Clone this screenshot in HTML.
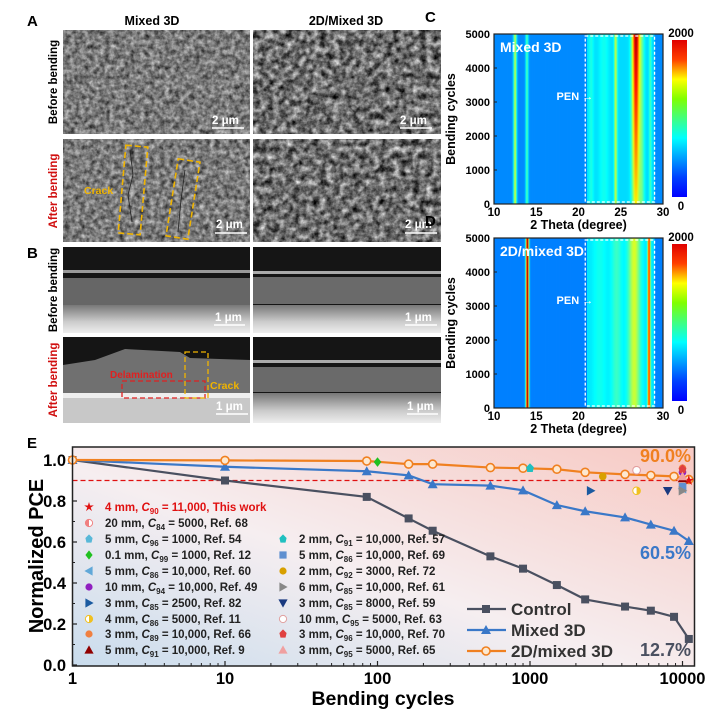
<!DOCTYPE html>
<html><head><meta charset="utf-8">
<style>
body{margin:0;background:#fff;width:718px;height:712px;overflow:hidden;font-family:"Liberation Sans",sans-serif;}
svg text{font-family:"Liberation Sans",sans-serif;font-weight:bold;}
</style></head>
<body>
<svg id="fig" width="718" height="712" viewBox="0 0 718 712">
<defs>
 <filter id="tex" x="0" y="0" width="100%" height="100%" color-interpolation-filters="sRGB"><feTurbulence type="fractalNoise" baseFrequency="0.2" numOctaves="3" seed="5" result="n"/><feColorMatrix in="n" type="saturate" values="0" result="g"/><feComponentTransfer in="g"><feFuncR type="linear" slope="1.1" intercept="-0.07"/><feFuncG type="linear" slope="1.1" intercept="-0.07"/><feFuncB type="linear" slope="1.1" intercept="-0.07"/><feFuncA type="linear" slope="0" intercept="1"/></feComponentTransfer></filter>
 <filter id="tex2" x="0" y="0" width="100%" height="100%" color-interpolation-filters="sRGB"><feTurbulence type="fractalNoise" baseFrequency="0.15" numOctaves="4" seed="9" result="n"/><feColorMatrix in="n" type="saturate" values="0" result="g"/><feComponentTransfer in="g"><feFuncR type="linear" slope="1.5" intercept="-0.32"/><feFuncG type="linear" slope="1.5" intercept="-0.32"/><feFuncB type="linear" slope="1.5" intercept="-0.32"/><feFuncA type="linear" slope="0" intercept="1"/></feComponentTransfer></filter>
 <linearGradient id="ebg" x1="0" y1="1" x2="1" y2="0"><stop offset="0" stop-color="#c9dced"/><stop offset="0.45" stop-color="#f6eef0"/><stop offset="1" stop-color="#f7c9c3"/></linearGradient>
 <linearGradient id="cbar" x1="0" y1="1" x2="0" y2="0"><stop offset="0" stop-color="#0000ff"/><stop offset="0.125" stop-color="#0040ff"/><stop offset="0.375" stop-color="#00ffff"/><stop offset="0.625" stop-color="#80ff00"/><stop offset="0.75" stop-color="#ffff00"/><stop offset="0.875" stop-color="#ff4000"/><stop offset="1" stop-color="#e00000"/></linearGradient>
 <linearGradient id="bsub" x1="0" y1="0" x2="0" y2="1"><stop offset="0" stop-color="#777"/><stop offset="0.6" stop-color="#ccc"/><stop offset="1" stop-color="#eee"/></linearGradient>
</defs>

<text x="27" y="26" font-size="15">A</text>
<text x="152" y="25" font-size="12.5" text-anchor="middle">Mixed 3D</text>
<text x="346" y="25" font-size="12.5" text-anchor="middle">2D/Mixed 3D</text>
<g><rect x="63" y="30" width="187" height="104" filter="url(#tex)"/></g>
<g><rect x="253" y="30" width="188" height="104" filter="url(#tex2)"/></g>
<g><rect x="63" y="139" width="187" height="103" filter="url(#tex)"/>
 <path d="M130,150 L133,175 L128,195 L132,222" stroke="#222" fill="none" stroke-width="0.8"/><path d="M185,170 L181,200 L178,232" stroke="#222" fill="none" stroke-width="0.8"/>
 <rect x="122" y="146" width="22" height="88" fill="none" stroke="#f0b400" stroke-width="1.6" stroke-dasharray="6,3" transform="rotate(5 133 190)"/>
 <rect x="172" y="160" width="22" height="78" fill="none" stroke="#f0b400" stroke-width="1.6" stroke-dasharray="6,3" transform="rotate(9 183 199)"/>
 <text x="84" y="194" font-size="10.5" fill="#f0b400">Crack</text></g>
<g><rect x="253" y="139" width="188" height="103" filter="url(#tex2)"/></g>
<g font-size="11.5" fill="#fff">
 <text x="212" y="124">2 μm</text><line x1="212" y1="128" x2="244" y2="128" stroke="#fff" stroke-width="1.5"/>
 <text x="400" y="124">2 μm</text><line x1="400" y1="128" x2="432" y2="128" stroke="#fff" stroke-width="1.5"/>
 <text x="216" y="228">2 μm</text><line x1="215" y1="233" x2="247" y2="233" stroke="#fff" stroke-width="1.5"/>
 <text x="405" y="228">2 μm</text><line x1="405" y1="233" x2="437" y2="233" stroke="#fff" stroke-width="1.5"/>
</g>
<text transform="translate(57,82) rotate(-90)" font-size="11.5" text-anchor="middle">Before bending</text>
<text transform="translate(57,191) rotate(-90)" font-size="11.5" text-anchor="middle" fill="#d01010">After bending</text>

<text x="27" y="258" font-size="15">B</text>
<g>
 <rect x="63" y="247" width="187" height="86" fill="#151515"/>
 <rect x="63" y="270" width="187" height="3" fill="#999"/>
 <rect x="63" y="278" width="187" height="27" fill="#666"/>
 <rect x="63" y="305" width="187" height="28" fill="url(#bsub)"/></g>
<g>
 <rect x="253" y="247" width="188" height="86" fill="#151515"/>
 <rect x="253" y="271" width="188" height="3" fill="#aaa"/>
 <rect x="253" y="277" width="188" height="27" fill="#6a6a6a"/>
 <rect x="253" y="305" width="188" height="28" fill="url(#bsub)"/></g>
<g>
 <rect x="63" y="337" width="187" height="86" fill="#151515"/>
 <path d="M63,365 L95,360 L125,349 L180,352 L190,358 L250,360 L250,393 L63,393Z" fill="#707070"/>
 <rect x="63" y="393" width="187" height="30" fill="#c8c8c8"/>
 <rect x="63" y="393" width="187" height="5" fill="#eee"/>
 <text x="110" y="378" font-size="10" fill="#e02020">Delamination</text>
 <rect x="122" y="381" width="83" height="17" fill="none" stroke="#e02020" stroke-width="1.3" stroke-dasharray="5,3"/>
 <rect x="185" y="352" width="23" height="46" fill="none" stroke="#f0b400" stroke-width="1.3" stroke-dasharray="5,3"/>
 <text x="210" y="389" font-size="10.5" fill="#f0b400">Crack</text></g>
<g>
 <rect x="253" y="337" width="188" height="86" fill="#151515"/>
 <rect x="253" y="360" width="188" height="3" fill="#aaa"/>
 <rect x="253" y="367" width="188" height="25" fill="#6a6a6a"/>
 <rect x="253" y="393" width="188" height="30" fill="url(#bsub)"/></g>
<g font-size="11.5" fill="#fff">
 <text x="215" y="321">1 μm</text><line x1="214" y1="325" x2="245" y2="325" stroke="#fff" stroke-width="1.5"/>
 <text x="405" y="321">1 μm</text><line x1="405" y1="325" x2="437" y2="325" stroke="#fff" stroke-width="1.5"/>
 <text x="216" y="410">1 μm</text><line x1="216" y1="414" x2="248" y2="414" stroke="#fff" stroke-width="1.5"/>
 <text x="407" y="410">1 μm</text><line x1="407" y1="414" x2="438" y2="414" stroke="#fff" stroke-width="1.5"/>
</g>
<text transform="translate(57,290) rotate(-90)" font-size="11.5" text-anchor="middle">Before bending</text>
<text transform="translate(57,380) rotate(-90)" font-size="11.5" text-anchor="middle" fill="#d01010">After bending</text>

<g id="heatC"></g>
<g id="heatD"></g>

<text x="27" y="448" font-size="15">E</text>
<rect x="72.5" y="447" width="622" height="219" fill="url(#ebg)"/>
<g id="chartE"></g>
<rect x="72.5" y="447" width="622" height="219" fill="none" stroke="#222" stroke-width="1.5"/>
</svg>

<script>
const thetaTicks=[10,15,20,25,30];
const cycleTicks=[0,1000,2000,3000,4000,5000];
// peaks: [position deg, intensity at 0 cycles, intensity at 5000 cycles, width deg]
const peaksC=[[12.5,0.3,0.28,0.2],[13.9,0.18,0.18,0.18],[24.4,0.22,0.22,0.18],[26.8,0.3,0.62,0.45],[27.5,0.12,0.1,0.3],[21.5,0.06,0.06,0.3],[28.5,0.1,0.1,0.15],[23,0.05,0.05,0.6]];
const peaksD=[[13.95,0.7,0.7,0.18],[28.35,0.5,0.5,0.16],[26.6,0.22,0.24,0.7],[24.5,0.08,0.08,0.6],[22.5,0.04,0.04,0.8]];
const baseC=0.26, baseD=0.25;
const regionC=[21,29,0.08], regionD=[21,29,0.1];

function jet(v){v=Math.max(0,Math.min(1,v));const c=t=>Math.round(255*Math.max(0,Math.min(1,1.5-Math.abs(4*v-t))));return `rgb(${c(3)},${c(2)},${c(1)})`;}
const NS="http://www.w3.org/2000/svg";
function mk(tag,attrs,parent){const e=document.createElementNS(NS,tag);for(const k in attrs)e.setAttribute(k,attrs[k]);parent.appendChild(e);return e;}
function intensity(th,peaks,base,region,f){let v=base;if(th>=region[0]&&th<=region[1])v+=region[2];for(const p of peaks){const a=p[1]+(p[2]-p[1])*f;v+=a*Math.exp(-Math.pow((th-p[0])/p[3],2));}return v;}

function heatmap(gid,y0,label,peaks,base,region,peny){
 const g=document.getElementById(gid);const x0=494,x1=663,y1=y0+170;
 const xs=t=>x0+(t-10)/20*(x1-x0), ys=c=>y1-c/5000*(y1-y0);
 const defs=mk('defs',{},g);
 const step=0.1;
 for(let t=10;t<30-1e-9;t+=step){
  const id=gid+'g'+Math.round(t*10);
  const lg=mk('linearGradient',{id:id,x1:0,y1:1,x2:0,y2:0},defs);
  [0,0.4,0.7,1].forEach(f=>mk('stop',{offset:f,'stop-color':jet(intensity(t+step/2,peaks,base,region,f))},lg));
  const r=mk('rect',{x:xs(t),y:y0,width:(x1-x0)*step/20+0.4,height:y1-y0,fill:`url(#${id})`},g);
  
  
 }
 mk('rect',{x:xs(region[0]-0.2),y:y0+2,width:xs(region[1])-xs(region[0]-0.2),height:y1-y0-4,fill:'none',stroke:'#fff','stroke-width':1.3,'stroke-dasharray':'3,2'},g);
 mk('rect',{x:x0,y:y0,width:x1-x0,height:y1-y0,fill:'none',stroke:'#222','stroke-width':1.2},g);
 const t1=mk('text',{x:x0+6,y:y0+18,'font-size':14,fill:'#fff'},g);t1.textContent=label;
 
 
 const pen=mk('text',{x:xs(17.4),y:peny,'font-size':11,fill:'#fff'},g);pen.textContent='PEN →';
 
 
 cycleTicks.forEach(c=>{const t=mk('text',{x:x0-4,y:ys(c)+4,'font-size':11,'text-anchor':'end'},g);t.textContent=c;
  
  
  mk('line',{x1:x0,x2:x0+3,y1:ys(c),y2:ys(c),stroke:'#222'},g);});
 thetaTicks.forEach(v=>{const t=mk('text',{x:xs(v),y:y1+12,'font-size':11.5,'text-anchor':'middle'},g);t.textContent=v;
  
  });
 const xt=mk('text',{x:(x0+x1)/2,y:y1+25,'font-size':12.5,'text-anchor':'middle'},g);xt.textContent='2 Theta (degree)';
 
 
 const yt=mk('text',{transform:`translate(455,${(y0+y1)/2}) rotate(-90)`,'font-size':12.5,'text-anchor':'middle'},g);yt.textContent='Bending cycles';
 
 
 const cb=mk('rect',{x:672,y:y0+6,width:15,height:157,fill:'url(#cbar)'},g);
 
 
 const c1=mk('text',{x:681,y:y0+3,'font-size':11.5,'text-anchor':'middle'},g);c1.textContent='2000';
 
 
 const c0=mk('text',{x:681,y:y1+6,'font-size':11.5,'text-anchor':'middle'},g);c0.textContent='0';
 
 
 const pl=mk('text',{x:425,y:y0-12,'font-size':15},g);pl.textContent=gid==='heatC'?'C':'D';
 
 
}
heatmap('heatC',34,'Mixed 3D',peaksC,baseC,regionC,100);
heatmap('heatD',238,'2D/mixed 3D',peaksD,baseD,regionD,304);

const cycles=[1,10,85,160,230,550,900,1500,2300,4200,6200,8800,11000];
const controlPCE=[1.0,0.9,0.82,0.715,0.655,0.53,0.47,0.39,0.32,0.285,0.265,0.235,0.127];
const mixedPCE=[1.0,0.967,0.945,0.925,0.882,0.875,0.852,0.78,0.75,0.72,0.685,0.655,0.605];
const twoDPCE=[1.0,0.998,0.995,0.98,0.98,0.963,0.96,0.955,0.94,0.93,0.925,0.92,0.905];
const xTicks=[1,10,100,1000,10000];
const yTicks=[0.0,0.2,0.4,0.6,0.8,1.0];
const refCycles=[11000,5000,1000,100,10000,10000,2500,5000,10000,10000,1000,10000,3000,10000,8000,5000,10000,10000];
const refPCE=[0.9,0.95,0.96,0.99,0.86,0.94,0.85,0.85,0.96,0.91,0.96,0.87,0.92,0.85,0.85,0.95,0.955,0.92];
const refShapes=['star','halfc','pent','diam','tril','circ','trir','halfc2','circ2','tri','pent2','sq','circ3','trir2','tridn','ocirc','house','tri2'];
const refColors=['#e01010','#f08080','#58b8d8','#20c020','#60a8d8','#9020c0','#1a5aa0','#f0c020','#f08040','#900000','#20c0c0','#6090d0','#d8a000','#888','#1a3a80','#e0a0a0','#e04040','#f0a0a0'];

const E=document.getElementById('chartE');
const X=v=>72.5+Math.log10(v)*152.5, Y=v=>665-205*v;
yTicks.forEach(v=>{const t=mk('text',{x:66,y:Y(v)+6,'font-size':16.5,'text-anchor':'end'},E);t.textContent=v.toFixed(1);
 
 
 mk('line',{x1:72.5,x2:77,y1:Y(v),y2:Y(v),stroke:'#222','stroke-width':1.2},E);
 if(v<1)mk('line',{x1:72.5,x2:75,y1:Y(v+0.1),y2:Y(v+0.1),stroke:'#222'},E);});
xTicks.forEach(v=>{const t=mk('text',{x:X(v),y:684,'font-size':16.5,'text-anchor':'middle'},E);t.textContent=v;
 
 
 mk('line',{x1:X(v),x2:X(v),y1:666,y2:661,stroke:'#222','stroke-width':1.2},E);
 if(v<10000)for(let k=2;k<10;k++)mk('line',{x1:X(v*k),x2:X(v*k),y1:666,y2:663,stroke:'#222'},E);});
const xt=mk('text',{x:383,y:705,'font-size':19.5,'text-anchor':'middle'},E);xt.textContent='Bending cycles';


const yt=mk('text',{transform:'translate(43,556) rotate(-90)','font-size':20,'text-anchor':'middle'},E);yt.textContent='Normalized PCE';


const ref=mk('line',{x1:72.5,x2:694,y1:Y(0.9),y2:Y(0.9),stroke:'#e01010','stroke-width':1.3,'stroke-dasharray':'5,3'},E);



function marker(shape,x,y,color,parent,s){
 s=s||4;let e;
 if(shape==='sq')e=mk('rect',{x:x-s,y:y-s,width:2*s,height:2*s,fill:color},parent);
 else if(shape.startsWith('tri')&&shape!=='tridn'&&!shape.startsWith('trir')&&shape!=='tril')e=mk('polygon',{points:`${x},${y-s-1} ${x-s-1},${y+s} ${x+s+1},${y+s}`,fill:color},parent);
 else if(shape==='tridn')e=mk('polygon',{points:`${x},${y+s+1} ${x-s-1},${y-s} ${x+s+1},${y-s}`,fill:color},parent);
 else if(shape.startsWith('trir'))e=mk('polygon',{points:`${x+s+1},${y} ${x-s},${y-s-1} ${x-s},${y+s+1}`,fill:color},parent);
 else if(shape==='tril')e=mk('polygon',{points:`${x-s-1},${y} ${x+s},${y-s-1} ${x+s},${y+s+1}`,fill:color},parent);
 else if(shape==='diam')e=mk('polygon',{points:`${x},${y-s-1} ${x+s},${y} ${x},${y+s+1} ${x-s},${y}`,fill:color},parent);
 else if(shape.startsWith('pent')||shape==='house')e=mk('polygon',{points:`${x},${y-s-1} ${x+s},${y-1} ${x+s*0.7},${y+s} ${x-s*0.7},${y+s} ${x-s},${y-1}`,fill:color},parent);
 else if(shape==='star'){let p=[];for(let i=0;i<10;i++){const r=i%2?s*0.5:s*1.4,a=-Math.PI/2+i*Math.PI/5;p.push((x+r*Math.cos(a)).toFixed(1)+','+(y+r*Math.sin(a)).toFixed(1));}e=mk('polygon',{points:p.join(' '),fill:color},parent);}
 else if(shape==='ocirc')e=mk('circle',{cx:x,cy:y,r:s,fill:'#fff',stroke:color,'stroke-width':1},parent);
 else if(shape.startsWith('halfc')){e=mk('circle',{cx:x,cy:y,r:s,fill:'#fff',stroke:color,'stroke-width':1},parent);mk('path',{d:`M${x},${y-s} A${s},${s} 0 0 ${shape==='halfc'?0:1} ${x},${y+s}Z`,fill:color},parent);}
 else e=mk('circle',{cx:x,cy:y,r:s,fill:color},parent);
 return e;
}
function series(vals,color,shape,name,open){
 const g=mk('g',{},E);
 
 
 mk('polyline',{points:cycles.map((c,i)=>X(c)+','+Y(vals[i])).join(' '),fill:'none',stroke:color,'stroke-width':2.2},g);
 cycles.forEach((c,i)=>{let m;
  if(open)m=mk('circle',{cx:X(c),cy:Y(vals[i]),r:4,fill:'#fde8d0',stroke:color,'stroke-width':1.6},g);
  else m=marker(shape,X(c),Y(vals[i]),color,g,4);
  
  });
}
series(controlPCE,'#4a5060','sq','control-series');
series(mixedPCE,'#3a78c8','tri','mixed-3d-series');
series(twoDPCE,'#f08020','circ','2d-mixed-3d-series',true);
refCycles.forEach((c,i)=>{const m=marker(refShapes[i],X(c),Y(refPCE[i]),refColors[i],E,refShapes[i]==='star'?4:3.8);
 
 });

[['90.0%',456,'#f08020'],['60.5%',553,'#3a78c8'],['12.7%',650,'#4a5060']].forEach(a=>{const t=mk('text',{x:691,y:a[1]+6,'font-size':18,'text-anchor':'end',fill:a[2]},E);t.textContent=a[0];
 
 });

const legCol1=[['star','#e01010','4 mm, ','90','11,000, This work'],['halfc','#f08080','20 mm, ','84','5000, Ref. 68'],['pent','#58b8d8','5 mm, ','96','1000, Ref. 54'],['diam','#20c020','0.1 mm, ','99','1000, Ref. 12'],['tril','#60a8d8','5 mm, ','86','10,000, Ref. 60'],['circ','#9020c0','10 mm, ','94','10,000, Ref. 49'],['trir','#1a5aa0','3 mm, ','85','2500, Ref. 82'],['halfc2','#f0c020','4 mm, ','86','5000, Ref. 11'],['circ2','#f08040','3 mm, ','89','10,000, Ref. 66'],['tri','#900000','5 mm, ','91','10,000, Ref. 9']];
const legCol2=[['pent2','#20c0c0','2 mm, ','91','10,000, Ref. 57'],['sq','#6090d0','5 mm, ','86','10,000, Ref. 69'],['circ3','#d8a000','2 mm, ','92','3000, Ref. 72'],['trir2','#888','6 mm, ','85','10,000, Ref. 61'],['tridn','#1a3a80','3 mm, ','85','8000, Ref. 59'],['ocirc','#e0a0a0','10 mm, ','95','5000, Ref. 63'],['house','#e04040','3 mm, ','96','10,000, Ref. 70'],['tri2','#f0a0a0','3 mm, ','95','5000, Ref. 65']];
const rowY=[511,527,543,559,575,591,607,623,638,654];
function legRow(item,x,y,red){
 const g=mk('g',{},E);
 
 
 marker(item[0],x,y-4,item[1],g,3.6);
 const t=mk('text',{x:x+16,y:y,'font-size':11.5,fill:red?'#e01010':'#222'},g);
 t.innerHTML=`${item[2]}<tspan font-style="italic">C</tspan><tspan font-size="8" dy="3">${item[3]}</tspan><tspan dy="-3"> = ${item[4]}</tspan>`;
}
legCol1.forEach((it,i)=>legRow(it,89,rowY[i],i===0));
legCol2.forEach((it,i)=>legRow(it,283,rowY[i+2]));

[['Control','#4a5060','sq',609],['Mixed 3D','#3a78c8','tri',630],['2D/mixed 3D','#f08020','oc',651]].forEach(s=>{
 const g=mk('g',{},E);
 
 
 mk('line',{x1:467,x2:506,y1:s[3],y2:s[3],stroke:s[1],'stroke-width':2.2},g);
 if(s[2]==='oc')mk('circle',{cx:486,cy:s[3],r:4,fill:'#fde8d0',stroke:s[1],'stroke-width':1.6},g);
 else marker(s[2],486,s[3],s[1],g,4);
 const t=mk('text',{x:511,y:s[3]+6,'font-size':17,fill:'#333'},g);t.textContent=s[0];
});
</script>
</body></html>
